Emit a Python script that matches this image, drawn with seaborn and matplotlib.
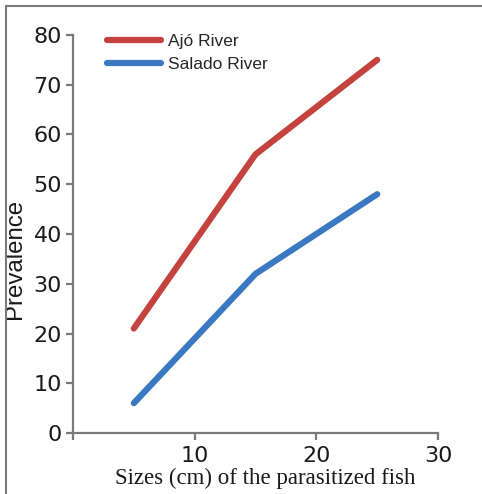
import matplotlib
matplotlib.use("Agg")
import matplotlib.pyplot as plt
import seaborn as sns
import pandas as pd
from matplotlib.lines import Line2D

sizes = [5, 15, 25]
ajo = [21, 56, 75]
salado = [6, 32, 48]
series_names = ["Ajó River", "Salado River"]
colors = ["#c4433e", "#3a79c2"]
x_ticks = [0, 10, 20, 30]
x_ticklabels = ["", "10", "20", "30"]
y_ticks = [0, 10, 20, 30, 40, 50, 60, 70, 80]

df = pd.DataFrame({
    "size": sizes + sizes,
    "prev": ajo + salado,
    "river": [series_names[0]] * len(sizes) + [series_names[1]] * len(sizes),
})

sns.set_theme(style="ticks")
plt.rcParams["font.family"] = ["Liberation Sans", "DejaVu Sans"]

fig = plt.figure(figsize=(4.82, 4.94), dpi=100)
ax = fig.add_axes([73 / 482, 1 - 433 / 494, 365 / 482, 398 / 494])

lw = 4.5
sns.lineplot(data=df, x="size", y="prev", hue="river", palette=colors,
             linewidth=lw, ax=ax, legend=False, solid_capstyle="round")

ax.set_xlim(0, 30)
ax.set_ylim(0, 80)
ax.set_xticks(x_ticks)
ax.set_xticklabels(x_ticklabels)
ax.set_yticks(y_ticks)

gray = "#7a7a7a"
for side in ["top", "right"]:
    ax.spines[side].set_visible(False)
for side in ["left", "bottom"]:
    ax.spines[side].set_color(gray)
    ax.spines[side].set_linewidth(1.6)
ax.tick_params(axis="both", colors=gray, width=1.6, length=5, labelsize=16,
               labelcolor="#1a1a1a")
ax.tick_params(axis="y", pad=3)
ax.tick_params(axis="x", pad=4)
for lab in ax.get_xticklabels() + ax.get_yticklabels():
    lab.set_family(["DejaVu Sans"])

ax.set_xlabel("Sizes (cm) of the parasitized fish", fontsize=16.5,
              family=["Liberation Serif", "DejaVu Serif"], color="#1a1a1a")
ax.set_ylabel("Prevalence", fontsize=17.3, color="#1a1a1a")
ax.xaxis.set_label_coords(0.526, -0.113)
ax.xaxis.label.set_va("center")
ax.yaxis.set_label_coords(-0.159, 0.437)
ax.yaxis.label.set_va("center")

handles = [Line2D([0], [0], color=c, linewidth=lw, solid_capstyle="round") for c in colors]
ax.legend(handles, series_names, loc="upper left", bbox_to_anchor=(0.094, 1.002),
          frameon=False, fontsize=12.5, handlelength=3.1, handletextpad=0.4,
          labelspacing=0.415, borderpad=0, borderaxespad=0)

fig.add_artist(Line2D([5.5 / 482, 1.0], [1 - 6.5 / 494, 1 - 6.5 / 494],
                      transform=fig.transFigure, color=gray, linewidth=1.5))
fig.add_artist(Line2D([5.5 / 482, 5.5 / 482], [0, 1 - 6.5 / 494],
                      transform=fig.transFigure, color=gray, linewidth=1.5))

fig.savefig("out.png", dpi=100)
